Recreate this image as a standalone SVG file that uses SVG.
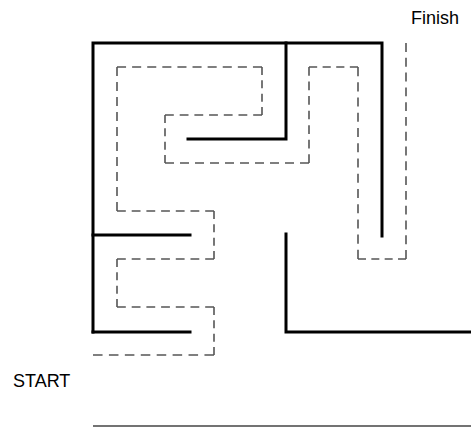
<svg xmlns="http://www.w3.org/2000/svg" width="471" height="427" viewBox="0 0 471 427">
<style>
.wall{fill:none;stroke:#000;stroke-width:3;stroke-linecap:square;stroke-linejoin:miter}
.route path{fill:none;stroke:#555;stroke-width:1.6;stroke-dasharray:9 6}
.lbl{font-family:"Liberation Sans",Arial,sans-serif;font-size:18px;fill:#000}
</style>
<rect width="471" height="427" fill="#fff"/>
<g id="walls">
<path class="wall" d="M93,332 V43 H382 V236"/>
<path class="wall" d="M188,139 H286 V43"/>
<path class="wall" d="M93,235 H190"/>
<path class="wall" d="M93,332 H190"/>
<path class="wall" d="M286,234 V332 H471"/>
<line x1="93" y1="426" x2="471" y2="426" stroke="#444" stroke-width="1.5"/>
</g>
<g id="connectors" class="route">
<path d="M93,355 H214" pathLength="114"/>
<path d="M214,355 V307" pathLength="54"/>
<path d="M214,307 H117" pathLength="99"/>
<path d="M117,307 V259" pathLength="54"/>
<path d="M117,259 H214" pathLength="99"/>
<path d="M214,259 V211" pathLength="54"/>
<path d="M214,211 H117" pathLength="99"/>
<path d="M117,211 V67" pathLength="144"/>
<path d="M117,67 H262" pathLength="144"/>
<path d="M262,67 V115" pathLength="54"/>
<path d="M262,115 H165" pathLength="99"/>
<path d="M165,115 V163" pathLength="54"/>
<path d="M165,163 H309" pathLength="144"/>
<path d="M309,163 V67" pathLength="99"/>
<path d="M309,67 H358" pathLength="54"/>
<path d="M358,67 V259" pathLength="189"/>
<path d="M358,259 H406" pathLength="54"/>
<path d="M406,259 V43" pathLength="219"/>
</g>
<g id="finish"><text class="lbl" x="411" y="24">Finish</text></g>
<g id="start"><text class="lbl" x="13" y="387">START</text></g>
</svg>
